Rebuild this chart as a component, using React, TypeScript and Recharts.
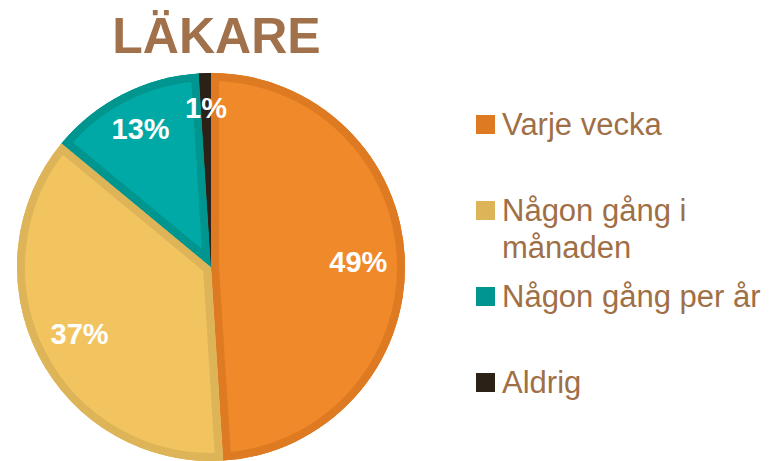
import React from 'react';
import { PieChart, Pie, Cell, Legend, Sector } from 'recharts';

const categories = ['Varje vecka', 'Någon gång i månaden', 'Någon gång per år', 'Aldrig'];
const shares = [49, 37, 13, 1];
const fillColors = ['#F0892A', '#F2C460', '#00A9A5', '#2B2117'];
const edgeColors = ['#DE7A22', '#DDB457', '#00968F', '#2B2117'];

const chartData = categories.map((name, i) => ({ name, value: shares[i] }));

const RAD = Math.PI / 180;
const FONT = '"Liberation Sans", Arial, sans-serif';

// draws the lighter inner part of each slice (clipped so the dark edge stays inside) plus the % text
const renderSliceLabel = (props: any) => {
  const { cx, cy, innerRadius, outerRadius, startAngle, endAngle, midAngle, percent, index } = props;
  const k = percent < 0.05 ? 0.82 : percent < 0.2 ? 0.8 : 0.76;
  const r = outerRadius * k;
  const x = cx + r * Math.cos(-midAngle * RAD);
  const y = cy + r * Math.sin(-midAngle * RAD);
  const clipId = `slice-clip-${index}`;
  return (
    <g key={`lbl-${index}`}>
      <defs>
        <clipPath id={clipId}>
          <Sector cx={cx} cy={cy} innerRadius={innerRadius} outerRadius={outerRadius}
            startAngle={startAngle} endAngle={endAngle} />
        </clipPath>
      </defs>
      <g clipPath={`url(#${clipId})`}>
        <Sector cx={cx} cy={cy} innerRadius={innerRadius} outerRadius={outerRadius}
          startAngle={startAngle} endAngle={endAngle}
          fill={fillColors[index]} stroke={edgeColors[index]} strokeWidth={16} />
      </g>
      <text x={x} y={y} fill="#fff" textAnchor="middle" dominantBaseline="central"
        fontFamily={FONT} fontWeight="bold" fontSize={29}>
        {`${Math.round(percent * 100)}%`}
      </text>
    </g>
  );
};

// legend in the original category order (recharts sorts the payload otherwise)
const renderLegend = () => (
  <div style={{ fontFamily: FONT, fontSize: 31, lineHeight: '37px', color: '#9F6F46' }}>
    {categories.map((name, i) => (
      <div key={name} style={{ display: 'flex', alignItems: 'flex-start', height: 86 }}>
        <span style={{ width: 19, height: 19, marginTop: 9, marginRight: 7, flexShrink: 0, background: edgeColors[i] }} />
        <span style={{ width: 270 }}>{name}</span>
      </div>
    ))}
  </div>
);

const App: React.FC = () => {
  return (
    <div style={{ position: 'absolute', left: 0, top: 0, width: 772, height: 461, background: '#fff' }}>
      <div style={{
        position: 'absolute', left: 0, width: 433, top: 11, textAlign: 'center',
        fontFamily: FONT, fontWeight: 'bold', fontSize: 50, lineHeight: '50px', color: '#A0714A'
      }}>
        LÄKARE
      </div>
      <PieChart width={772} height={461} margin={{ top: 0, right: 0, bottom: 0, left: 0 }}>
        <Pie
          data={chartData}
          dataKey="value"
          nameKey="name"
          cx={211}
          cy={267}
          outerRadius={194}
          startAngle={90}
          endAngle={-270}
          stroke="none"
          label={renderSliceLabel}
          labelLine={false}
          isAnimationActive={false}
        >
          {chartData.map((_, i) => (
            <Cell key={i} fill={edgeColors[i]} />
          ))}
        </Pie>
        <Legend
          layout="vertical"
          align="right"
          verticalAlign="middle"
          content={renderLegend}
          wrapperStyle={{ left: 476, top: 106, width: 296 }}
        />
      </PieChart>
    </div>
  );
};

export default App;
